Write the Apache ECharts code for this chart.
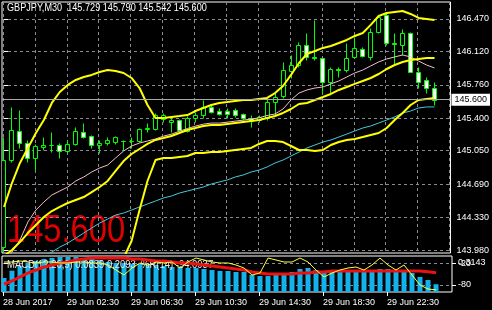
<!DOCTYPE html>
<html><head><meta charset="utf-8">
<script src="https://cdn.jsdelivr.net/npm/echarts@6/dist/echarts.min.js"></script>
<style>html,body{margin:0;padding:0;background:#000;}#c{width:492px;height:310px;}</style>
</head><body><div id="c"></div>
<script>
const symbolName = 'GBPJPY,M30';
const xLabels = ['28 Jun 2017','29 Jun 02:30','29 Jun 06:30','29 Jun 10:30','29 Jun 14:30','29 Jun 18:30','29 Jun 22:30'];
const labelBars = [0, 8, 16, 24, 32, 40, 48];
const priceTicks = [143.98, 144.33, 144.69, 145.05, 145.40, 145.76, 146.12, 146.47];
const macdScaleLabels = [0.3143];
const wprLevels = [-20, -80];

const open  = [144.012,144.950,145.263,145.133,144.972,145.090,145.112,145.107,145.047,145.123,145.252,145.209,145.112,145.133,145.144,145.155,145.152,145.155,145.284,145.284,145.392,145.360,145.381,145.263,145.403,145.435,145.522,145.478,145.478,145.489,145.446,145.403,145.381,145.403,145.575,145.640,145.910,145.974,146.190,146.061,146.050,145.791,145.931,145.920,146.061,146.147,146.061,146.330,146.513,146.211,146.190,146.319,145.899,145.813,145.729];
const high  = [145.198,145.522,145.489,145.166,145.123,145.198,145.252,145.133,145.166,145.306,145.349,145.220,145.166,145.198,145.209,145.166,145.198,145.295,145.349,145.457,145.457,145.403,145.392,145.424,145.468,145.597,145.543,145.511,145.511,145.511,145.457,145.435,145.435,145.619,145.683,146.007,146.082,146.222,146.319,146.459,146.061,145.953,145.953,146.211,146.276,146.168,146.373,146.513,146.535,146.319,146.362,146.330,145.953,145.845,145.790];
const low   = [143.959,144.929,145.080,144.929,144.842,145.058,145.036,144.972,145.026,145.112,145.187,145.080,145.026,145.112,145.123,145.058,145.080,145.144,145.252,145.274,145.360,145.252,145.263,145.252,145.360,145.403,145.457,145.435,145.403,145.414,145.381,145.306,145.360,145.381,145.435,145.619,145.834,145.953,146.028,146.028,145.672,145.672,145.845,145.899,146.050,146.061,146.028,146.319,146.190,145.974,146.082,145.899,145.727,145.672,145.542];
const close = [144.950,145.274,145.133,144.972,145.101,145.112,145.107,145.047,145.123,145.263,145.198,145.112,145.133,145.166,145.198,145.152,145.160,145.284,145.290,145.435,145.435,145.381,145.274,145.403,145.435,145.522,145.468,145.446,145.446,145.435,145.403,145.371,145.414,145.575,145.629,145.920,145.974,146.190,146.061,146.050,145.791,145.931,145.920,146.050,146.158,146.071,146.330,146.492,146.211,146.201,146.319,145.899,145.791,145.727,145.600];

const bbUpper  = [144.444,144.702,144.918,145.080,145.241,145.381,145.565,145.683,145.759,145.813,145.845,145.867,145.899,145.920,145.910,145.888,145.834,145.726,145.543,145.403,145.403,145.414,145.424,145.435,145.478,145.511,145.543,145.565,145.575,145.586,145.597,145.597,145.608,145.619,145.672,145.748,145.867,145.996,146.093,146.125,146.158,146.179,146.211,146.244,146.287,146.319,146.406,146.502,146.535,146.546,146.556,146.524,146.481,146.470,146.459];
const bbMiddle = [143.915,143.980,144.066,144.163,144.250,144.336,144.400,144.444,144.487,144.519,144.551,144.605,144.659,144.724,144.832,144.939,145.015,145.069,145.123,145.166,145.187,145.209,145.241,145.274,145.295,145.317,145.328,145.328,145.338,145.349,145.360,145.371,145.381,145.403,145.424,145.457,145.500,145.554,145.565,145.597,145.629,145.662,145.705,145.737,145.770,145.802,145.834,145.877,145.931,145.974,146.007,146.028,146.039,146.050,146.050];
const bbLower  = [143.387,143.258,143.215,143.247,143.258,143.290,143.236,143.204,143.215,143.225,143.258,143.344,143.419,143.527,143.754,143.894,144.077,144.411,144.724,144.950,144.972,144.972,144.983,144.993,145.026,145.026,145.036,145.036,145.047,145.058,145.069,145.080,145.123,145.155,145.155,145.144,145.101,145.058,145.058,145.047,145.058,145.112,145.144,145.166,145.177,145.198,145.220,145.241,145.295,145.381,145.457,145.543,145.597,145.608,145.619];
const maFast   = [143.851,143.958,144.088,144.282,144.411,144.497,144.573,144.616,144.659,144.724,144.767,144.821,144.864,144.896,144.972,145.047,145.101,145.133,145.155,145.177,145.207,145.229,145.260,145.290,145.315,145.337,145.348,145.348,145.358,145.369,145.380,145.391,145.405,145.430,145.446,145.500,145.597,145.672,145.705,145.726,145.737,145.770,145.802,145.845,145.888,145.920,145.964,146.007,146.039,146.061,146.082,146.061,146.017,145.974,145.942];
const maSlow   = [143.667,143.710,143.764,143.818,143.861,143.915,143.958,144.012,144.055,144.109,144.163,144.217,144.271,144.314,144.357,144.379,144.411,144.444,144.476,144.508,144.541,144.562,144.594,144.616,144.638,144.659,144.691,144.713,144.735,144.767,144.789,144.821,144.842,144.875,144.918,144.950,144.993,145.036,145.080,145.112,145.144,145.166,145.198,145.230,145.263,145.295,145.317,145.349,145.381,145.414,145.457,145.478,145.511,145.522,145.522];

const macdMain   = [0.152,0.231,0.282,0.314,0.336,0.358,0.369,0.379,0.379,0.379,0.369,0.358,0.347,0.325,0.314,0.314,0.304,0.304,0.293,0.293,0.282,0.271,0.271,0.260,0.260,0.249,0.238,0.228,0.228,0.217,0.217,0.184,0.173,0.173,0.184,0.206,0.217,0.249,0.260,0.238,0.217,0.217,0.217,0.217,0.228,0.228,0.238,0.249,0.249,0.238,0.228,0.206,0.163,0.130,0.0839];
const macdSignal = [0.087,0.119,0.163,0.206,0.238,0.271,0.293,0.314,0.325,0.347,0.358,0.369,0.369,0.369,0.369,0.369,0.358,0.358,0.347,0.336,0.336,0.325,0.314,0.314,0.304,0.293,0.282,0.271,0.260,0.249,0.238,0.217,0.206,0.195,0.195,0.195,0.195,0.206,0.206,0.217,0.217,0.228,0.228,0.228,0.228,0.228,0.228,0.228,0.228,0.228,0.228,0.228,0.228,0.219,0.2093];
const wpr = [-16.7,-16.7,-13.9,-16.7,-19.4,-16.7,-16.7,-19.4,-19.4,-16.7,-16.7,-19.4,-19.4,-25.0,-38.9,-52.8,-33.3,-19.4,-25.0,-16.7,-19.4,-16.7,-33.3,-16.7,-5.6,-11.1,-16.7,-19.4,-19.4,-25.0,-33.3,-52.8,-47.2,-5.6,-11.1,-16.7,-16.7,-5.6,-16.7,-38.9,-58.3,-47.2,-38.9,-33.3,-30.6,-38.9,-25.0,-5.6,-25.0,-38.9,-25.0,-52.8,-80.6,-91.7,-94.0937];

const FONT = "'Liberation Sans',Arial,sans-serif";
const N = close.length;
const X_MIN = -0.25, X_MAX = 56;
const gridX = [];
for (let k = 0; k <= 56; k += 4) gridX.push(k - 0.125);
const labelX = labelBars.map(b => b - 0.125);
const pair = arr => arr.map((v, i) => [i, v]);
const dash = { color: '#8a8a96', type: [3, 3], width: 1 };
const f3 = v => v.toFixed(3);

function renderCandle(params, api) {
  const i = api.value(0);
  const o = api.value(1), c = api.value(2), l = api.value(3), h = api.value(4);
  const pO = api.coord([i, o]), pC = api.coord([i, c]);
  const pH = api.coord([i, h]), pL = api.coord([i, l]);
  const cx = Math.floor(pO[0]) + 0.5;
  const yTop = Math.round(Math.min(pO[1], pC[1])) + 0.5;
  const yBot = Math.round(Math.max(pO[1], pC[1])) + 0.5;
  const bull = c >= o;
  return {
    type: 'group',
    children: [
      { type: 'line', shape: { x1: cx, y1: Math.round(pH[1]) + 0.5, x2: cx, y2: Math.round(pL[1]) + 0.5 },
        style: { stroke: '#00ff00', lineWidth: 1 } },
      { type: 'rect', shape: { x: cx - 2, y: yTop, width: 4, height: yBot - yTop },
        style: { fill: bull ? '#000000' : '#ffffff', stroke: '#00ff00', lineWidth: 1 } }
    ]
  };
}

const header = symbolName + '  ' + f3(open[N-1]) + ' ' + f3(high[N-1]) + ' ' + f3(low[N-1]) + ' ' + f3(close[N-1]);
const subText = 'MACD(12,26,9) ' + macdMain[N-1].toFixed(4) + ' ' + macdSignal[N-1].toFixed(4) + '  %R(14) ' + wpr[N-1].toFixed(4);

const chart = echarts.init(document.getElementById('c'), null, { renderer: 'canvas', width: 492, height: 310 });
const lineS = (data, color, width, z) => ({
  type: 'line', xAxisIndex: 0, yAxisIndex: 0, data: pair(data), showSymbol: false, symbol: 'none',
  lineStyle: { color: color, width: width }, z: z, silent: true, animation: false
});

const middleSeries = lineS(bbMiddle, '#ffff00', 2, 4);
middleSeries.markLine = {
  silent: true, symbol: ['none', 'none'],
  lineStyle: { color: '#a8a8a8', width: 1, type: 'solid' },
  label: { position: 'end', distance: 1, formatter: p => f3(p.value), backgroundColor: '#ffffff',
           color: '#000000', fontSize: 9, fontFamily: FONT, padding: [2, 3, 1, 3] },
  data: [{ yAxis: close[N-1] }]
};

chart.setOption({
  backgroundColor: '#000000',
  animation: false,
  grid: [
    { left: 2, top: 2, width: 450, height: 251, show: true, borderColor: '#ffffff', borderWidth: 1, backgroundColor: 'transparent' },
    { left: 2, top: 256, width: 450, height: 36, show: true, borderColor: '#ffffff', borderWidth: 1, backgroundColor: 'transparent' }
  ],
  xAxis: [
    { type: 'value', gridIndex: 0, min: X_MIN, max: X_MAX, axisLine: { show: false },
      axisLabel: { show: false }, axisTick: { show: false, customValues: gridX },
      splitLine: { show: true, lineStyle: dash } },
    { type: 'value', gridIndex: 1, min: X_MIN, max: X_MAX, position: 'bottom', axisLine: { show: false },
      axisTick: { show: true, customValues: labelX, length: 4, lineStyle: { color: '#ffffff' } },
      axisLabel: { customValues: labelX, formatter: v => xLabels[labelBars.indexOf(Math.round(v + 0.125))] || '',
                   align: 'left', color: '#ffffff', fontSize: 9, fontFamily: FONT, margin: 6 },
      splitLine: { show: false } }
  ],
  yAxis: [
    { type: 'value', gridIndex: 0, position: 'right', min: 143.948, max: 146.653, axisLine: { show: false },
      axisTick: { show: true, customValues: priceTicks, length: 4, lineStyle: { color: '#ffffff' } },
      axisLabel: { customValues: priceTicks, formatter: f3, color: '#ffffff', fontSize: 9, fontFamily: FONT, margin: 6 },
      splitLine: { show: true, lineStyle: dash } },
    { type: 'value', gridIndex: 1, position: 'right', min: 0, max: 0.39, axisLine: { show: false },
      axisTick: { show: true, customValues: macdScaleLabels, length: 4, lineStyle: { color: '#ffffff' } },
      axisLabel: { customValues: macdScaleLabels, formatter: v => v.toFixed(4), color: '#ffffff', fontSize: 9, fontFamily: FONT, margin: 6 },
      splitLine: { show: false } },
    { type: 'value', gridIndex: 1, position: 'right', min: -100, max: 0, axisLine: { show: false },
      axisTick: { show: true, customValues: wprLevels, length: 4, lineStyle: { color: '#ffffff' } },
      axisLabel: { customValues: wprLevels, formatter: v => String(v), color: '#ffffff', fontSize: 9, fontFamily: FONT, margin: 6 },
      splitLine: { show: true, lineStyle: dash } }
  ],
  graphic: [
    { type: 'text', x: 7, y: 232, scaleX: 0.86, z: 0, silent: true,
      style: { text: f3(close[N-1]), fill: '#e00000', font: '38px ' + FONT, verticalAlign: 'middle', align: 'left' } },
    { type: 'text', x: 7, y: 8, scaleX: 0.83, z: 10, silent: true,
      style: { text: header, fill: '#ffffff', font: '11px ' + FONT, verticalAlign: 'middle', align: 'left' } },
    { type: 'text', x: 7, y: 265, scaleX: 0.86, z: 2.5, silent: true,
      style: { text: subText, fill: '#e8e8e8', font: '11px ' + FONT, verticalAlign: 'middle', align: 'left' } }
  ],
  series: [
    { type: 'custom', xAxisIndex: 0, yAxisIndex: 0, clip: true, renderItem: renderCandle,
      encode: { x: 0, y: [1, 2, 3, 4] }, z: 2, silent: true,
      data: open.map((o, i) => [i, o, close[i], low[i], high[i]]) },
    lineS(maSlow, '#46c8d8', 1, 3),
    lineS(maFast, '#f4bcc8', 1, 3),
    lineS(bbUpper, '#ffff00', 2, 4),
    middleSeries,
    lineS(bbLower, '#ffff00', 2, 4),
    { type: 'bar', xAxisIndex: 1, yAxisIndex: 1, data: pair(macdMain), barWidth: 5,
      itemStyle: { color: '#12b2ec' }, silent: true, z: 2 },
    { type: 'line', xAxisIndex: 1, yAxisIndex: 1, data: pair(macdSignal), showSymbol: false, symbol: 'none',
      lineStyle: { color: '#ee1111', width: 3 }, silent: true, z: 3 },
    { type: 'line', xAxisIndex: 1, yAxisIndex: 2, data: pair(wpr), showSymbol: false, symbol: 'none',
      lineStyle: { color: '#ffff40', width: 1 }, silent: true, z: 4 }
  ]
});
</script>
</body></html>
